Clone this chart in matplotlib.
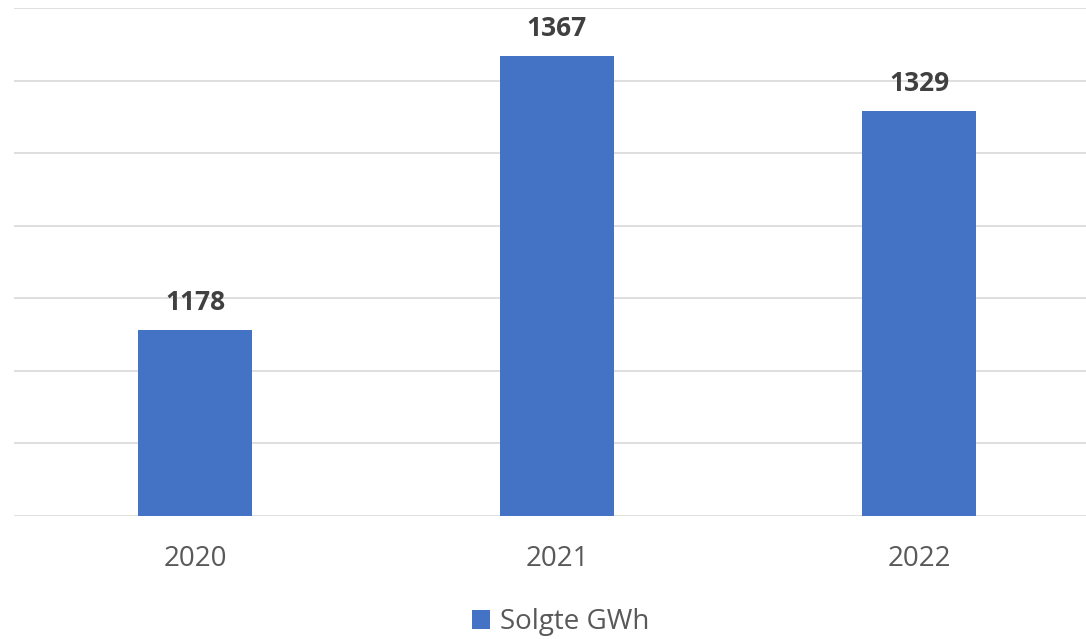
import matplotlib
matplotlib.use("Agg")
import matplotlib.pyplot as plt

years = ["2020", "2021", "2022"]
solgte_gwh = [1178, 1367, 1329]
grid_ticks = [1050, 1100, 1150, 1200, 1250, 1300, 1350, 1400]

plt.rcParams['font.family'] = ['Open Sans', 'DejaVu Sans']

fig = plt.figure(figsize=(10.86, 6.39), dpi=100)
ax = fig.add_axes([14 / 1086, 123 / 639, 1086 / 1086, 508 / 639])

bars = ax.bar(range(len(years)), solgte_gwh, width=0.315, color='#4472C4',
              zorder=2, label='Solgte GWh')

for b, v in zip(bars, solgte_gwh):
    ax.annotate(str(v), (b.get_x() + b.get_width() / 2, v), xytext=(0, 10),
                textcoords='offset points', ha='center', va='bottom',
                fontsize=19, fontweight='bold', color='#404040')

ax.set_xlim(-0.5, 2.5)
ax.set_ylim(grid_ticks[0], grid_ticks[-1])
ax.set_yticks(grid_ticks)
ax.set_yticklabels([])
ax.set_xticks(range(len(years)))
ax.set_xticklabels(years, fontsize=20, color='#595959')
ax.tick_params(axis='y', length=0)
ax.tick_params(axis='x', length=0, pad=21)
ax.grid(axis='y', color='#D9D9D9', linewidth=1.2, zorder=0)
for s in ax.spines.values():
    s.set_visible(False)

fig.legend(loc='center', bbox_to_anchor=(0.5 + 18 / 1086, 17 / 639), frameon=False,
           fontsize=20, labelcolor='#595959', handlelength=0.65, handleheight=0.65,
           handletextpad=0.35)

fig.savefig("out.png", dpi=100)
